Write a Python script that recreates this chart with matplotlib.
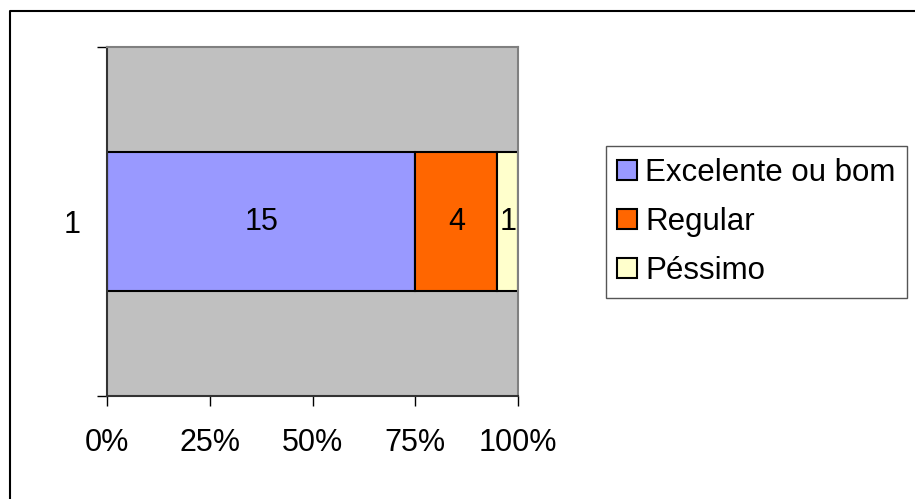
import matplotlib
matplotlib.use("Agg")
import matplotlib.pyplot as plt
from matplotlib.lines import Line2D
from matplotlib.ticker import PercentFormatter
import numpy as np

plt.rcParams['font.family'] = ['Liberation Sans', 'DejaVu Sans']

# dados
categorias = ['1']
series = ['Excelente ou bom', 'Regular', 'Péssimo']
valores = [15, 4, 1]
cores = ['#9999FF', '#FF6600', '#FFFFCC']
xticks = [0, 0.25, 0.5, 0.75, 1.0]

total = sum(valores)
frac = np.array(valores) / total

fig = plt.figure(figsize=(9.15, 4.99), dpi=100)
ax = fig.add_axes([107 / 915, 1 - 396 / 499, (518 - 107) / 915, (396 - 47) / 499])
ax.set_facecolor('#C0C0C0')

esquerda = 0
for nome, v, f, c in zip(series, valores, frac, cores):
    barras = ax.barh([1], [f], left=esquerda, height=0.4, color=c,
                     edgecolor='black', linewidth=1.5, label=nome)
    ax.bar_label(barras, labels=[str(v)], label_type='center', fontsize=22)
    esquerda += f

ax.set_xlim(0, 1)
ax.set_ylim(0.5, 1.5)
ax.set_xticks(xticks)
ax.xaxis.set_major_formatter(PercentFormatter(1.0, decimals=0))
ax.tick_params(axis='x', direction='out', length=7, width=1, labelsize=22, pad=16)

ax.set_yticks([0.5, 1.5])
ax.set_yticklabels([])
ax.set_yticks([1], minor=True)
ax.set_yticklabels(categorias, minor=True)
ax.tick_params(axis='y', which='major', direction='out', length=7, width=1)
ax.tick_params(axis='y', which='minor', length=0, labelsize=22, pad=19)

for s in ['top', 'right']:
    ax.spines[s].set_color('#808080')
    ax.spines[s].set_linewidth(1.5)
for s in ['left', 'bottom']:
    ax.spines[s].set_color('#333333')
    ax.spines[s].set_linewidth(1.5)

leg = ax.legend(loc='center left', bbox_to_anchor=(606 / 915, 1 - 222 / 499),
                bbox_transform=fig.transFigure, fontsize=22.5, frameon=True,
                fancybox=False, framealpha=1, edgecolor='#555555',
                handlelength=0.64, handleheight=0.6, handletextpad=0.25,
                labelspacing=0.62, borderpad=0.36, borderaxespad=0)
leg.get_frame().set_linewidth(1)

# moldura da figura
x0 = 10 / 915
y0 = 1 - 11 / 499
fig.add_artist(Line2D([x0, x0, 1], [0, y0, y0], color='black', linewidth=1.5,
                      transform=fig.transFigure))

fig.savefig('out.png', dpi=100)
